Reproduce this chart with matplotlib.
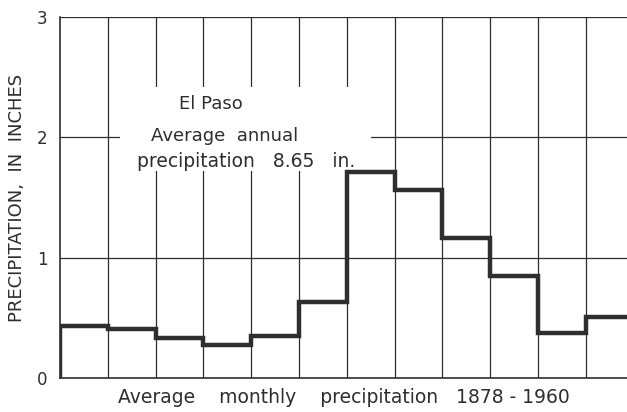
import numpy as np
import matplotlib
matplotlib.use("Agg")
import matplotlib.pyplot as plt
from matplotlib.patches import Rectangle

months = ["Jan", "Feb", "Mar", "Apr", "May", "Jun", "Jul", "Aug", "Sep", "Oct", "Nov", "Dec"]
precip = [0.43, 0.41, 0.33, 0.275, 0.35, 0.63, 1.71, 1.56, 1.16, 0.85, 0.375, 0.51]
yticks = [0, 1, 2, 3]

ink = "#2e2e2e"
fig = plt.figure(figsize=(6.27, 4.12), dpi=100)
ax = fig.add_axes([0.0957, 0.0825, 0.9043, 0.876])

edges = np.arange(len(months) + 1)
xs = np.concatenate([[0], edges])
ys = np.concatenate([[0], precip, [precip[-1]]])
ax.step(xs, ys, where="post", color=ink, lw=3.2, zorder=5, solid_joinstyle="miter")

# grid: month boundaries and whole inches
for m in edges[1:]:
    ax.plot([m, m], [0, 3], color=ink, lw=0.9, zorder=1)
for v in yticks[1:]:
    ax.plot([0, 13], [v, v], color=ink, lw=0.9, zorder=1)

# blank area behind the caption
ax.add_patch(Rectangle((1.25, 1.72), 5.25, 0.7, facecolor="white", edgecolor="none", zorder=2))

ax.text(3.16, 2.28, "El Paso", ha="center", va="center", fontsize=13, color=ink, zorder=6)
ax.text(3.45, 2.01, "Average  annual", ha="center", va="center", fontsize=13, color=ink, zorder=6)
ax.text(3.9, 1.80, "precipitation   8.65   in.", ha="center", va="center", fontsize=13.5, color=ink, zorder=6)

ax.set_xlim(0, 11.86)
ax.set_ylim(0, 3)
ax.set_xticks([])
ax.set_yticks(yticks)
ax.set_yticklabels([str(t) for t in yticks], fontsize=12, color=ink)
ax.tick_params(axis="y", length=0, pad=9)
for s in ["top", "right"]:
    ax.spines[s].set_visible(False)
ax.spines["left"].set_color(ink)
ax.spines["bottom"].set_color(ink)
ax.spines["left"].set_linewidth(1.2)
ax.spines["bottom"].set_linewidth(1.2)

ax.set_ylabel("PRECIPITATION,  IN  INCHES", fontsize=13, color=ink, labelpad=8)
ax.set_xlabel("Average    monthly    precipitation   1878 - 1960", fontsize=13.5, color=ink, labelpad=7)

fig.savefig("out.png", dpi=100)
